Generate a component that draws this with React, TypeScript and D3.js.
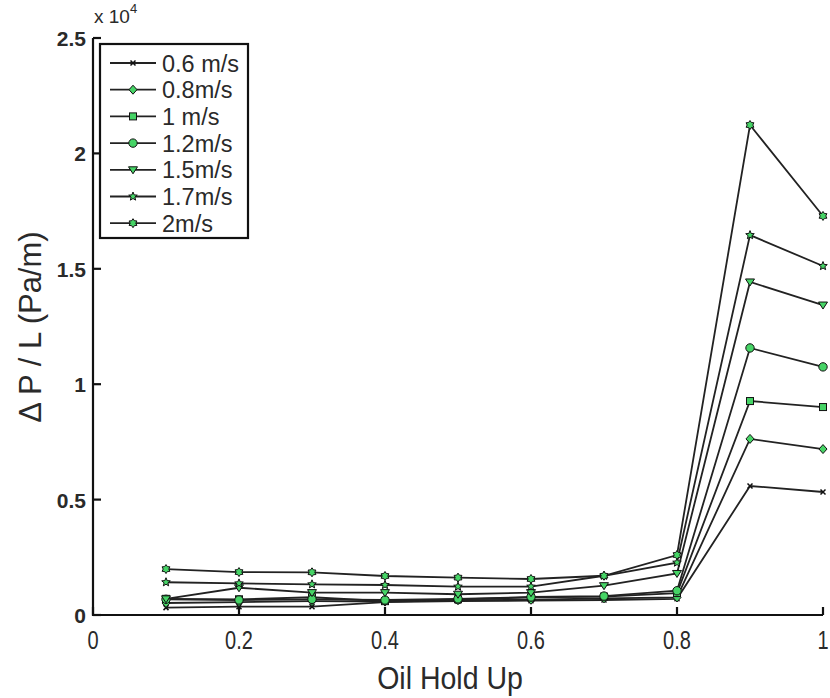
import React from "react";
import * as d3 from "d3";

const holdUp = [0.1, 0.2, 0.3, 0.4, 0.5, 0.6, 0.7, 0.8, 0.9, 1.0];
const seriesNames = ["0.6 m/s", "0.8m/s", "1 m/s", "1.2m/s", "1.5m/s", "1.7m/s", "2m/s"];
const v06 = [320, 360, 360, 560, 600, 620, 650, 700, 5590, 5330];
const v08 = [520, 560, 600, 580, 640, 660, 720, 760, 7630, 7190];
const v10 = [700, 680, 770, 600, 680, 760, 800, 950, 9270, 9010];
const v12 = [680, 650, 680, 650, 700, 780, 820, 1050, 11570, 10750];
const v15 = [700, 1180, 970, 970, 900, 970, 1270, 1800, 14430, 13430];
const v17 = [1420, 1370, 1330, 1300, 1230, 1230, 1700, 2270, 16460, 15120];
const v20 = [1990, 1860, 1850, 1690, 1620, 1560, 1700, 2600, 21230, 17290];
const seriesValues = [v06, v08, v10, v12, v15, v17, v20];
const markerKinds = ["x", "diamond", "square", "circle", "triangleDown", "star", "hexagram"];
const xTicks = [0, 0.2, 0.4, 0.6, 0.8, 1];
const yTicks = [0, 5000, 10000, 15000, 20000, 25000];
const yTickLabels = ["0", "0.5", "1", "1.5", "2", "2.5"];

const FONT = "'Liberation Sans', Arial, Helvetica, sans-serif";
const FILL = "#46d466";
const TEXT = "#2a2a2a";

function starPath(n: number, r1: number, r2: number) {
  const pts: string[] = [];
  for (let i = 0; i < n * 2; i++) {
    const a = -Math.PI / 2 + (i * Math.PI) / n;
    const r = i % 2 === 0 ? r1 : r2;
    pts.push(`${(r * Math.cos(a)).toFixed(2)},${(r * Math.sin(a)).toFixed(2)}`);
  }
  return "M" + pts.join("L") + "Z";
}

function Marker({ kind, x, y }: { kind: string; x: number; y: number }) {
  const common = { fill: FILL, stroke: "#111", strokeWidth: 1 };
  switch (kind) {
    case "x":
      return (
        <path d={`M${x - 2.5},${y - 2.5}L${x + 2.5},${y + 2.5}M${x - 2.5},${y + 2.5}L${x + 2.5},${y - 2.5}`} stroke="#111" strokeWidth={1.5} />
      );
    case "diamond":
      return <path d={`M${x},${y - 4.5}L${x + 4},${y}L${x},${y + 4.5}L${x - 4},${y}Z`} {...common} />;
    case "square":
      return <rect x={x - 3.5} y={y - 3.5} width={7} height={7} {...common} />;
    case "circle":
      return <circle cx={x} cy={y} r={4.2} {...common} />;
    case "triangleDown":
      return <path d={`M${x - 4.5},${y - 3}L${x + 4.5},${y - 3}L${x},${y + 4}Z`} {...common} />;
    case "star":
      return <path d={starPath(5, 4.5, 2)} transform={`translate(${x},${y})`} {...common} />;
    case "hexagram":
      return <path d={starPath(6, 4.5, 2.8)} transform={`translate(${x},${y})`} {...common} />;
    default:
      return null;
  }
}

export default function App() {
  const W = 830;
  const H = 698;
  const left = 93;
  const right = 823;
  const top = 38;
  const bottom = 615;
  const x = d3.scaleLinear().domain([0, 1]).range([left, right]);
  const y = d3.scaleLinear().domain([0, 25000]).range([bottom, top]);
  const line = d3
    .line<[number, number]>()
    .x((d) => x(d[0]))
    .y((d) => y(d[1]));

  const legendX = 100;
  const legendY = 44;
  const legendRowH = 26.7;

  return (
    <svg width={W} height={H} style={{ position: "absolute", left: 0, top: 0, background: "#fff" }}>
      <rect width={W} height={H} fill="#fff" />
      {/* axes */}
      <g stroke="#111" strokeWidth={2.2} fill="none">
        <path d={`M${left},${top}L${left},${bottom}L${right},${bottom}`} />
        {xTicks.map((t) => (
          <line key={"xt" + t} x1={x(t)} x2={x(t)} y1={bottom} y2={bottom - 8} />
        ))}
        {yTicks.map((t) => (
          <line key={"yt" + t} x1={left} x2={left + 8} y1={y(t)} y2={y(t)} />
        ))}
      </g>
      <g fontFamily={FONT} fill={TEXT}>
        {xTicks.map((t) => (
          <text
            key={"xl" + t}
            transform={`translate(${x(t)},${bottom + 34}) scale(0.8,1)`}
            textAnchor="middle"
            fontSize={25}
          >
            {d3.format("")(t)}
          </text>
        ))}
        {yTicks.map((t, i) => (
          <text key={"yl" + t} x={left - 7} y={y(t) + 8} textAnchor="end" fontSize={21} fontWeight="bold">
            {yTickLabels[i]}
          </text>
        ))}
        <text x={left + 1} y={23} fontSize={19}>
          x 10
          <tspan dy={-10} fontSize={13}>4</tspan>
        </text>
        <text
          transform={`translate(${(left + right) / 2 - 8},${689}) scale(0.92,1)`}
          textAnchor="middle"
          fontSize={31}
        >
          Oil Hold Up
        </text>
        <text transform={`translate(41,327) rotate(-90)`} textAnchor="middle" fontSize={31}>
          Δ P / L (Pa/m)
        </text>
      </g>
      {/* series */}
      {seriesValues.map((vals, si) => (
        <g key={"s" + si}>
          <path d={line(vals.map((v, i) => [holdUp[i], v] as [number, number])) || ""} fill="none" stroke="#222" strokeWidth={1.8} />
          {vals.map((v, i) => (
            <Marker key={i} kind={markerKinds[si]} x={x(holdUp[i])} y={y(v)} />
          ))}
        </g>
      ))}
      {/* legend */}
      <rect x={legendX} y={legendY} width={148} height={194} fill="#fff" stroke="#111" strokeWidth={2.2} />
      <g fontFamily={FONT} fontSize={23.5} fill={TEXT}>
        {seriesNames.map((name, i) => {
          const cy = legendY + 19 + i * legendRowH;
          return (
            <g key={"lg" + i}>
              <line x1={legendX + 10} x2={legendX + 56} y1={cy} y2={cy} stroke="#222" strokeWidth={1.8} />
              <Marker kind={markerKinds[i]} x={legendX + 33} y={cy} />
              <text x={legendX + 62} y={cy + 8.5}>
                {name}
              </text>
            </g>
          );
        })}
      </g>
    </svg>
  );
}
